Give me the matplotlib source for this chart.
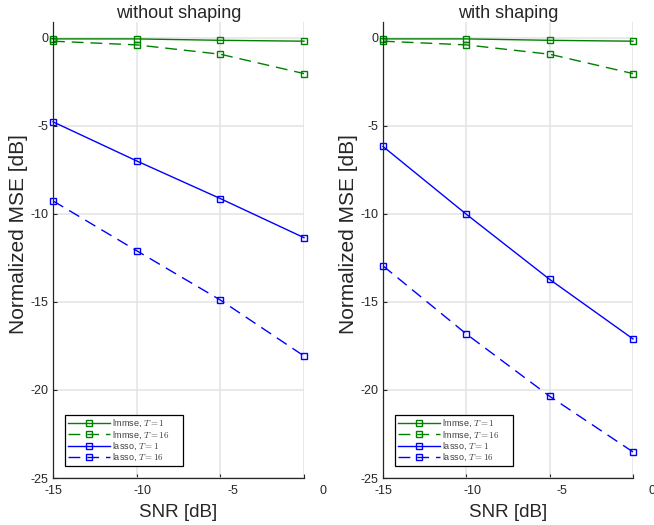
import matplotlib
matplotlib.use("Agg")
import matplotlib.pyplot as plt
import matplotlib.transforms as mtransforms

plt.rcParams['font.family'] = ['Liberation Sans', 'DejaVu Sans']
plt.rcParams['mathtext.fontset'] = 'cm'

# data
snr = [-15, -10.35, -5.7, -1.05]
xlabels = [-15, -10, -5, 0]
yticks = [0, -5, -10, -15, -20, -25]

lmmse_t1 = [-0.06, -0.06, -0.14, -0.19]
lmmse_t16 = [-0.19, -0.40, -0.93, -2.03]

lasso_t1_noshape = [-4.77, -6.99, -9.13, -11.35]
lasso_t16_noshape = [-9.26, -12.09, -14.89, -18.07]

lasso_t1_shape = [-6.17, -10.02, -13.72, -17.1]
lasso_t16_shape = [-12.95, -16.82, -20.36, -23.52]

titles = ["without shaping", "with shaping"]
labels = [r"lmmse, $T=1$", r"lmmse, $T=16$", r"lasso, $T=1$", r"lasso, $T=16$"]

green = (0, 0.5, 0)
blue = (0, 0, 1)
dash = (0, (8.5, 5))
txt = "#262626"

fig = plt.figure(figsize=(6.54, 5.25), dpi=100)
boxes = [[53/654, 47/525, 251/654, 456/525], [383/654, 47/525, 250/654, 456/525]]
series = [
    [lmmse_t1, lmmse_t16, lasso_t1_noshape, lasso_t16_noshape],
    [lmmse_t1, lmmse_t16, lasso_t1_shape, lasso_t16_shape],
]

for box, title, ys in zip(boxes, titles, series):
    ax = fig.add_axes(box)
    styles = [(green, '-'), (green, dash), (blue, '-'), (blue, dash)]
    for y, (c, ls), lab in zip(ys, styles, labels):
        # trailing spaces give the wider right margin of the original legend
        ax.plot(snr, y, color=c, linestyle=ls, linewidth=1.0, marker='s',
                markersize=4.3, markerfacecolor='none', markeredgewidth=1.0,
                label=lab + "     ", clip_on=False)
    ax.set_xlim(snr[0], snr[-1])
    ax.set_ylim(-25, 0.9)
    ax.set_xticks(snr)
    ax.set_xticklabels([])
    ax.set_yticks(yticks)
    ax.set_yticklabels([str(v) for v in yticks])
    ax.tick_params(direction='in', length=3, width=0.8, colors=txt,
                   labelsize=9, pad=3)
    ax.grid(True, color='#e3e3e3', linewidth=1.1)
    ax.set_axisbelow(True)
    for s in ['top', 'right']:
        ax.spines[s].set_visible(False)
    for s in ['left', 'bottom']:
        ax.spines[s].set_color('#262626')
        ax.spines[s].set_linewidth(0.9)

    trans = mtransforms.blended_transform_factory(ax.transData, ax.transAxes)
    for v in xlabels:
        ax.text(v, -0.015, str(v), transform=trans, ha='center', va='top',
                fontsize=9, color=txt, clip_on=False)

    ax.set_title(title, fontsize=13, color=txt, pad=3)
    ax.set_xlabel("SNR [dB]", fontsize=13.5, color=txt, labelpad=16)
    ax.set_ylabel("Normalized MSE [dB]", fontsize=15, color=txt)
    ax.yaxis.set_label_coords(-0.10, 0.535)

    leg = ax.legend(loc='lower left', bbox_to_anchor=(0.048, 0.026),
                    fontsize=6.5, handlelength=4.7, handletextpad=0.2,
                    labelspacing=0.0, borderpad=0.3, borderaxespad=0,
                    fancybox=False, framealpha=1, edgecolor='black')
    leg.get_frame().set_linewidth(0.9)
    for t in leg.get_texts():
        t.set_color('#404040')

fig.savefig("out.png", dpi=100)
